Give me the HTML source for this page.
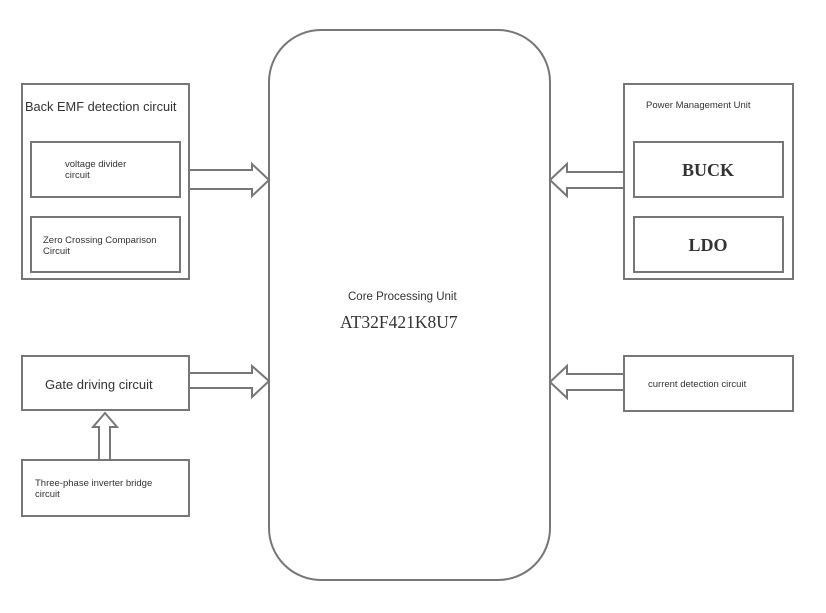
<!DOCTYPE html>
<html><head><style>
body{margin:0;width:826px;height:608px;background:#fff;overflow:hidden}
text{fill:#333}
</style></head><body>
<svg width="826" height="608" xmlns="http://www.w3.org/2000/svg" font-family="Liberation Sans, sans-serif">
<g fill="#fff" stroke="#777" stroke-width="2">
<rect x="269" y="30" width="281" height="550" rx="52"/>
<rect x="22" y="84" width="167" height="195"/>
<rect x="31" y="142" width="149" height="55"/>
<rect x="31" y="217" width="149" height="55"/>
<rect x="624" y="84" width="169" height="195"/>
<rect x="634" y="142" width="149" height="55"/>
<rect x="634" y="217" width="149" height="55"/>
<rect x="22" y="356" width="167" height="54"/>
<rect x="22" y="460" width="167" height="56"/>
<rect x="624" y="356" width="169" height="55"/>
<polygon points="189,170 252,170 252,164 269,180 252,196 252,189 189,189"/>
<polygon points="189,373 252,373 252,366 269,381 252,397 252,388 189,388"/>
<polygon points="624,172 567,172 567,164 550,180 567,196 567,188 624,188"/>
<polygon points="624,374 567,374 567,366 550,382 567,398 567,390 624,390"/>
<polygon points="99,460 99,427 93,427 105,413 117,427 110,427 110,460"/>
</g>
<text x="25" y="111" font-size="12.8">Back EMF detection circuit</text>
<text x="65" y="167" font-size="9.5">voltage divider</text>
<text x="65" y="178" font-size="9.5">circuit</text>
<text x="43" y="243" font-size="9.5">Zero Crossing Comparison</text>
<text x="43" y="254" font-size="9.5">Circuit</text>
<text x="646" y="108" font-size="9.5">Power Management Unit</text>
<text x="708" y="176" font-size="18" font-family="Liberation Serif, serif" text-anchor="middle" font-weight="bold">BUCK</text>
<text x="708" y="251" font-size="18" font-family="Liberation Serif, serif" text-anchor="middle" font-weight="bold">LDO</text>
<text x="45" y="389" font-size="13">Gate driving circuit</text>
<text x="35" y="486" font-size="9.5">Three-phase inverter bridge</text>
<text x="35" y="497" font-size="9.5">circuit</text>
<text x="648" y="387" font-size="9.5">current detection circuit</text>
<text x="348" y="300" font-size="11.5">Core Processing Unit</text>
<text x="340" y="328" font-size="17.5" font-family="Liberation Serif, serif">AT32F421K8U7</text>
</svg>
</body></html>
